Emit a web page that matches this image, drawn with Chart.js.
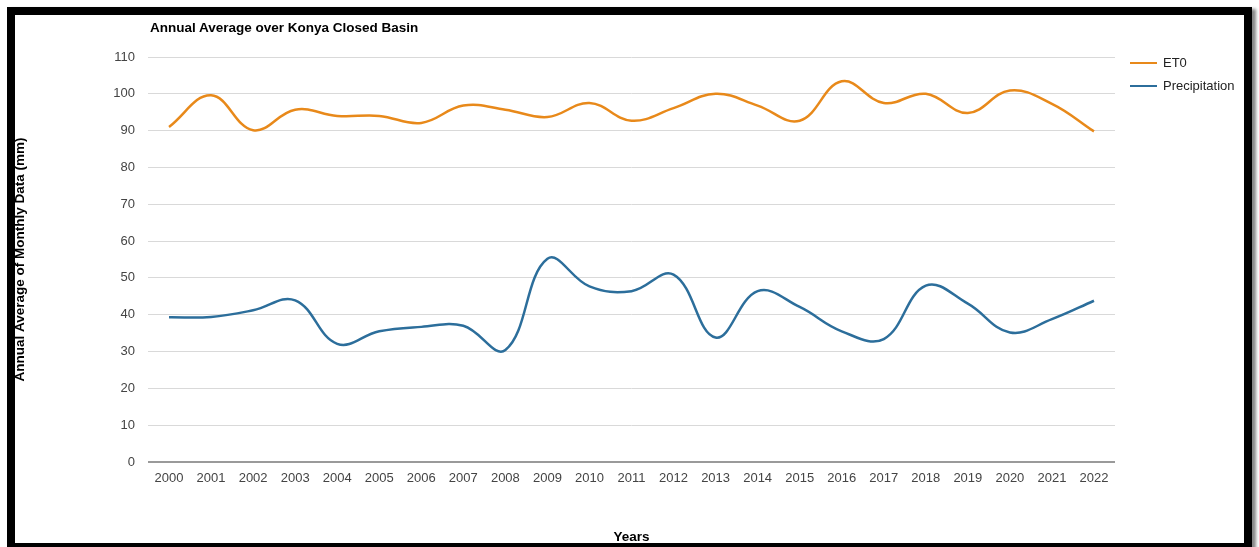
<!DOCTYPE html>
<html>
<head>
<meta charset="utf-8">
<script src="https://cdn.jsdelivr.net/npm/chart.js@4/dist/chart.umd.min.js"></script>
<style>
  html, body { margin: 0; padding: 0; background: #fff; width: 1259px; height: 547px; overflow: hidden; }
  #frame { position: absolute; left: 7px; top: 7px; width: 1229px; height: 528px; border: 8px solid #000; box-shadow: 4px 2px 3px #888; }
  #wrap { position: absolute; left: 0; top: 0; width: 1259px; height: 547px; }
  #title { position: absolute; left: 150px; top: 20px; font: bold 13.5px "Liberation Sans", Arial, sans-serif; color: #000; }
  .leg { position: absolute; left: 1130px; font: 13px "Liberation Sans", Arial, sans-serif; color: #222; height: 16px; line-height: 16px; }
  .leg span { display: inline-block; width: 27px; height: 2px; vertical-align: middle; margin-right: 6px; position: relative; top: -1px; }
</style>
</head>
<body>
<div id="frame"></div>
<div id="wrap"><canvas id="c" width="1259" height="547"></canvas></div>
<div id="title">Annual Average over Konya Closed Basin</div>
<div class="leg" style="top:55px"><span style="background:#e8891a"></span>ET0</div>
<div class="leg" style="top:78px"><span style="background:#2c6e9b"></span>Precipitation</div>
<script>
const years = ["2000","2001","2002","2003","2004","2005","2006","2007","2008","2009","2010","2011","2012","2013","2014","2015","2016","2017","2018","2019","2020","2021","2022"];
const et0 = [91.0, 99.6, 90.1, 95.7, 94.0, 94.0, 92.1, 96.8, 95.7, 93.7, 97.5, 92.7, 96.1, 100.0, 96.8, 92.7, 103.4, 97.5, 100.0, 94.8, 100.9, 97.3, 89.8];
const precipitation = [39.3, 39.4, 41.2, 43.9, 32.1, 35.5, 36.7, 37.0, 30.4, 55.2, 47.7, 46.4, 50.9, 33.8, 46.4, 42.1, 35.5, 33.4, 47.9, 43.0, 35.2, 38.8, 43.8];
const seriesNames = ["ET0", "Precipitation"];
const yTitle = "Annual Average of Monthly Data (mm)";
const xTitle = "Years";

const font = "'Liberation Sans', Arial, sans-serif";
new Chart(document.getElementById('c'), {
  type: 'line',
  data: {
    labels: years,
    datasets: [
      { label: seriesNames[0], data: et0, borderColor: '#e8891a', borderWidth: 2.5, pointRadius: 0, tension: 0.4, fill: false },
      { label: seriesNames[1], data: precipitation, borderColor: '#2c6e9b', borderWidth: 2.5, pointRadius: 0, tension: 0.4, fill: false }
    ]
  },
  options: {
    responsive: false,
    animation: false,
    layout: { padding: { left: 0, top: 57, right: 144, bottom: 0 } },
    plugins: { legend: { display: false }, tooltip: { enabled: false } },
    scales: {
      x: {
        offset: true,
        grid: { display: false, drawTicks: false },
        border: { display: false },
        ticks: { color: '#444', font: { family: font, size: 13 }, padding: 9, maxRotation: 0, autoSkip: false },
        title: { display: true, text: xTitle, color: '#000', font: { family: font, size: 13.5, weight: 'bold' }, padding: { top: 0, bottom: 2 } },
        afterFit: s => { s.height = 85; }
      },
      y: {
        min: 0, max: 110,
        grid: {
          drawTicks: false,
          color: ctx => ctx.tick.value === 0 ? '#9a9a9a' : (ctx.tick.value % 10 === 0 ? '#d9d9d9' : '#ededed'),
          lineWidth: ctx => ctx.tick.value === 0 ? 2 : 1
        },
        border: { display: false },
        ticks: { stepSize: 5, color: '#444', font: { family: font, size: 13 }, padding: 13,
          callback: v => (v % 10 === 0 ? String(v) : '') },
        title: { display: true, text: yTitle, color: '#000', font: { family: font, size: 13.5, weight: 'bold' }, padding: { top: 12, bottom: 0 } },
        afterFit: s => { s.width = 148; }
      }
    }
  }
});
</script>
</body>
</html>
